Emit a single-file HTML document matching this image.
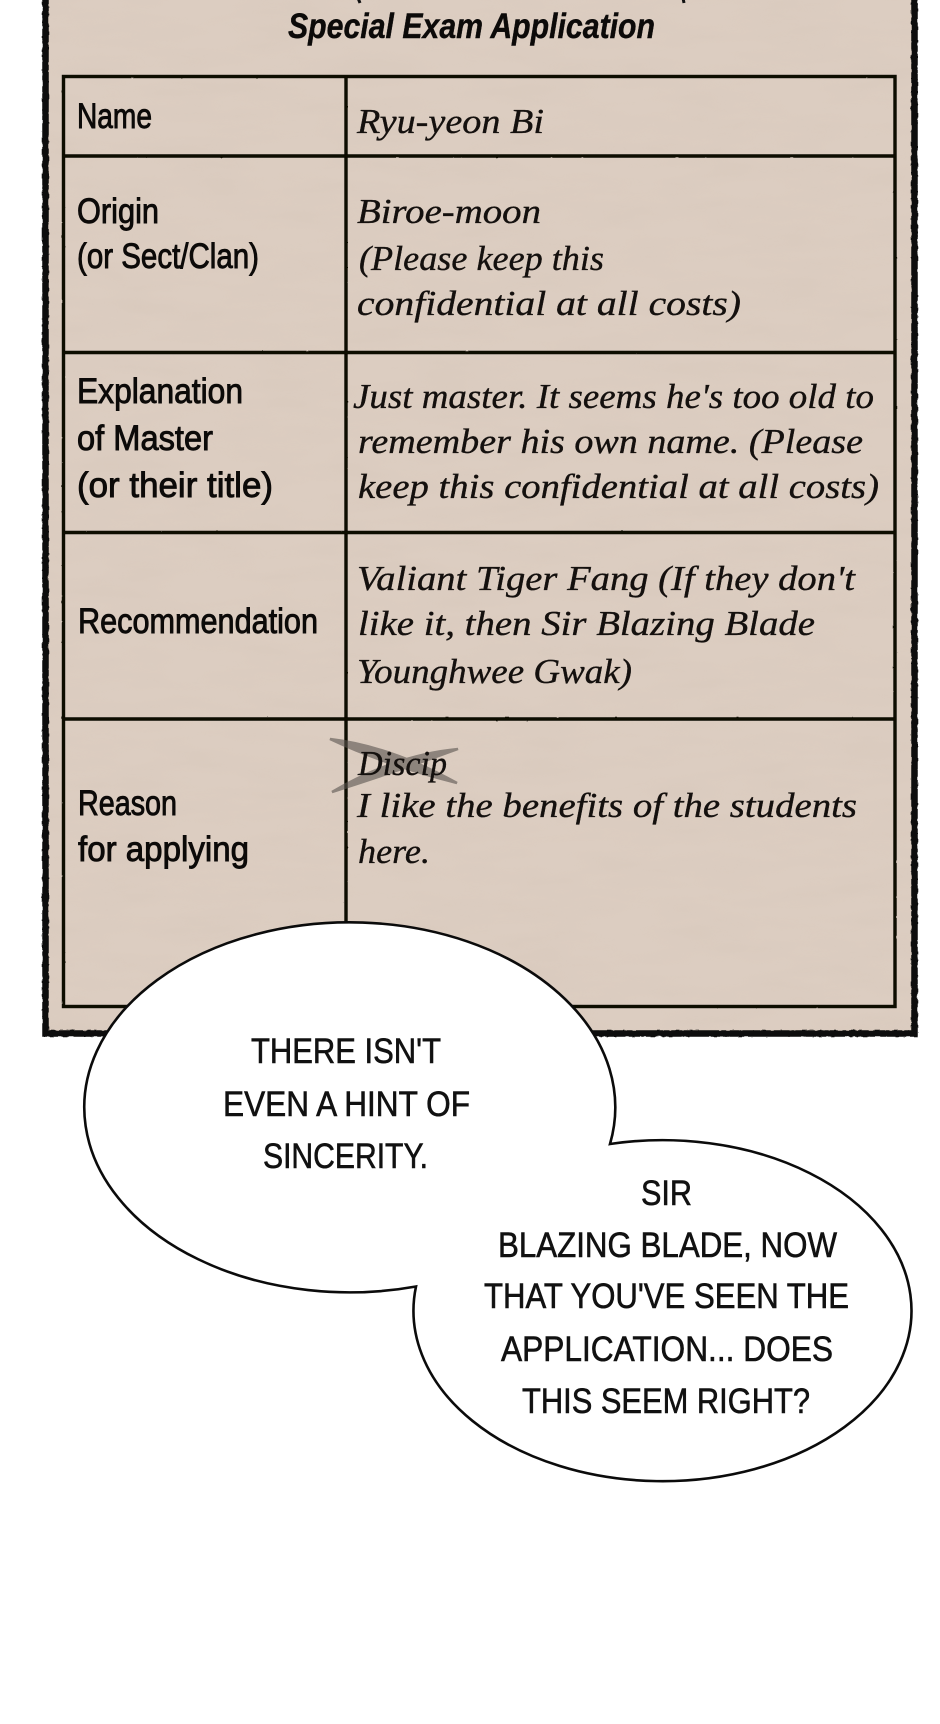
<!DOCTYPE html>
<html><head><meta charset="utf-8"><style>
html,body{margin:0;padding:0;background:#fff;width:940px;height:1724px;overflow:hidden}
svg{display:block}
.l{font-family:"Liberation Sans",sans-serif;font-size:35px;fill:#0c0a09;stroke:#0c0a09;stroke-width:.9px}
.r{font-family:"Liberation Serif",serif;font-style:italic;font-size:35px;fill:#14100e;stroke:#14100e;stroke-width:.35px}
.t{font-family:"Liberation Sans",sans-serif;font-style:italic;font-weight:bold;font-size:35px;fill:#0c0a09;stroke:#0c0a09;stroke-width:.4px}
.b{font-family:"Liberation Sans",sans-serif;font-size:35px;fill:#111;stroke:#111;stroke-width:.6px}
</style></head><body>
<svg width="940" height="1724" viewBox="0 0 940 1724" xmlns="http://www.w3.org/2000/svg">
<defs>
<filter id="paper" x="0" y="0" width="100%" height="100%">
<feTurbulence type="fractalNoise" baseFrequency="0.012 0.05" numOctaves="3" seed="4"/>
<feColorMatrix values="0 0 0 0 .58  0 0 0 0 .48  0 0 0 0 .40  .55 0 0 0 -.2"/>
</filter>
<filter id="rough" x="-2%" y="-2%" width="104%" height="104%">
<feTurbulence type="fractalNoise" baseFrequency="0.16" numOctaves="2" seed="7"/>
<feDisplacementMap in="SourceGraphic" scale="2.6" xChannelSelector="R" yChannelSelector="G"/>
</filter>
<filter id="rough2" x="-2%" y="-2%" width="104%" height="104%">
<feTurbulence type="fractalNoise" baseFrequency="0.2" numOctaves="1" seed="3"/>
<feDisplacementMap in="SourceGraphic" scale="1" xChannelSelector="R" yChannelSelector="G"/>
</filter>
</defs>

<rect x="45" y="-10" width="870" height="1043" fill="#dccdc1"/>
<rect x="45" y="-10" width="870" height="1043" filter="url(#paper)" opacity=".4"/>

<g filter="url(#rough)">
<path d="M45.500 -10 V1033.500 H914.500 V-10" fill="none" stroke="#0d0a09" stroke-width="6.500"/>
</g>

<g filter="url(#rough2)" fill="none" stroke="#090706" stroke-width="3.400">
<rect x="63.500" y="76.500" width="831.500" height="930"/>
<path d="M346 76.500 V1006.500"/>
<path d="M63.500 156 H895 M63.500 352.500 H895 M63.500 532.500 H895 M63.500 719 H895"/>
</g>

<path d="M358 -2 L360 3 M683 -2 L684 3" stroke="#111" stroke-width="3" fill="none"/>

<text class="t" x="288" y="38" textLength="367" lengthAdjust="spacingAndGlyphs">Special Exam Application</text>

<text class="l" x="77" y="128" textLength="75" lengthAdjust="spacingAndGlyphs">Name</text>
<text class="l" x="77" y="223" textLength="82" lengthAdjust="spacingAndGlyphs">Origin</text>
<text class="l" x="77" y="268" textLength="182" lengthAdjust="spacingAndGlyphs">(or Sect/Clan)</text>
<text class="l" x="77" y="403" textLength="166" lengthAdjust="spacingAndGlyphs">Explanation</text>
<text class="l" x="77" y="450" textLength="136" lengthAdjust="spacingAndGlyphs">of Master</text>
<text class="l" x="77" y="497" textLength="196" lengthAdjust="spacingAndGlyphs">(or their title)</text>
<text class="l" x="78" y="633" textLength="240" lengthAdjust="spacingAndGlyphs">Recommendation</text>
<text class="l" x="78" y="815" textLength="99" lengthAdjust="spacingAndGlyphs">Reason</text>
<text class="l" x="78" y="861" textLength="171" lengthAdjust="spacingAndGlyphs">for applying</text>

<text class="r" x="357" y="133" textLength="187" lengthAdjust="spacingAndGlyphs">Ryu-yeon Bi</text>
<text class="r" x="357" y="223" textLength="184" lengthAdjust="spacingAndGlyphs">Biroe-moon</text>
<text class="r" x="359" y="270" textLength="245" lengthAdjust="spacingAndGlyphs">(Please keep this</text>
<text class="r" x="357" y="315" textLength="384" lengthAdjust="spacingAndGlyphs">confidential at all costs)</text>
<text class="r" x="353" y="408" textLength="521" lengthAdjust="spacingAndGlyphs">Just master. It seems he's too old to</text>
<text class="r" x="358" y="453" textLength="505" lengthAdjust="spacingAndGlyphs">remember his own name. (Please</text>
<text class="r" x="358" y="498" textLength="521" lengthAdjust="spacingAndGlyphs">keep this confidential at all costs)</text>
<text class="r" x="357" y="590" textLength="498" lengthAdjust="spacingAndGlyphs">Valiant Tiger Fang (If they don't</text>
<text class="r" x="358" y="635" textLength="457" lengthAdjust="spacingAndGlyphs">like it, then Sir Blazing Blade</text>
<text class="r" x="357" y="683" textLength="275" lengthAdjust="spacingAndGlyphs">Younghwee Gwak)</text>
<path d="M330 739 Q390 746 457 783 Q385 765 330 739Z M332 792 Q395 755 458 749 Q395 772 332 792Z" fill="#5a544f" stroke="#5a544f" stroke-width="2.500" opacity=".6"/>
<text class="r" x="358" y="775" textLength="89" lengthAdjust="spacingAndGlyphs">Discip</text>
<text class="r" x="357" y="817" textLength="500" lengthAdjust="spacingAndGlyphs">I like the benefits of the students</text>
<text class="r" x="358" y="863" textLength="72" lengthAdjust="spacingAndGlyphs">here.</text>

<path d="M610 1144 A265.500 185 0 1 0 416 1286.500 A249 170.500 0 1 0 610 1144 Z" fill="#fff" stroke="#0b0b0b" stroke-width="2.600" stroke-linejoin="miter" stroke-miterlimit="10"/>

<text class="b" x="251" y="1063" textLength="190" lengthAdjust="spacingAndGlyphs">THERE ISN'T</text>
<text class="b" x="223" y="1116" textLength="247" lengthAdjust="spacingAndGlyphs">EVEN A HINT OF</text>
<text class="b" x="263" y="1168" textLength="165" lengthAdjust="spacingAndGlyphs">SINCERITY.</text>
<text class="b" x="641" y="1205" textLength="51" lengthAdjust="spacingAndGlyphs">SIR</text>
<text class="b" x="498" y="1257" textLength="339" lengthAdjust="spacingAndGlyphs">BLAZING BLADE, NOW</text>
<text class="b" x="484" y="1308" textLength="365" lengthAdjust="spacingAndGlyphs">THAT YOU'VE SEEN THE</text>
<text class="b" x="501" y="1361" textLength="332" lengthAdjust="spacingAndGlyphs">APPLICATION... DOES</text>
<text class="b" x="522" y="1413" textLength="288" lengthAdjust="spacingAndGlyphs">THIS SEEM RIGHT?</text>
</svg>
</body></html>
